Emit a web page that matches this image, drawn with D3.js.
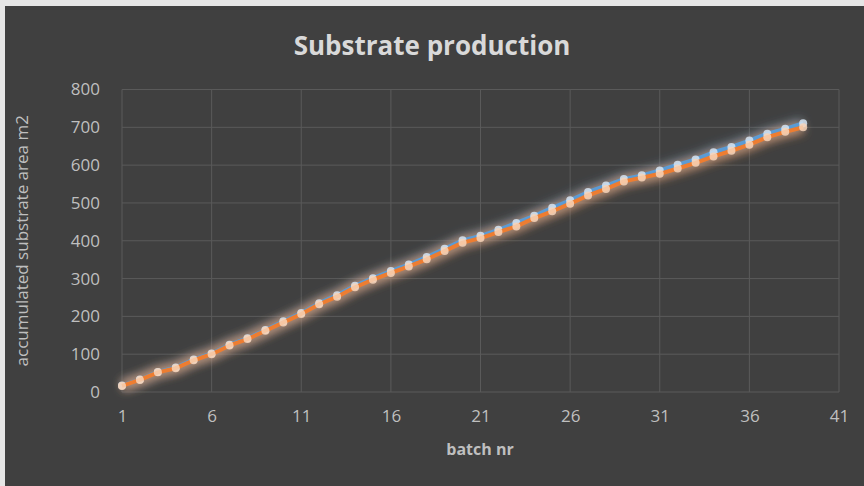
<html>
  <head>
    <meta charset="utf-8" />
    <title>Substrate production</title>
    <script src="https://d3js.org/d3.v7.min.js"></script>
    <style>
      body { margin: 0; background: #e6e6e6; }
      svg { display: block; }
    </style>
  </head>
  <body>
    <div id="figure"></div>
    <script type="text/javascript">
      // batch numbers and accumulated area (m2)
      var batches = d3.range(1, 40);
      var blueValues = [17, 33, 53, 65, 86, 102, 125, 142, 164, 187, 209, 235, 256, 281, 301, 320, 337, 357, 379, 401,
        413, 429, 447, 466, 487, 507, 529, 546, 563, 573, 586, 601, 615, 634, 648, 665, 683, 696, 711];
      var orangeValues = [16, 32, 52, 63, 84, 100, 123, 140, 162, 184, 206, 232, 252, 277, 297, 315, 332, 351, 373, 395,
        407, 423, 438, 460, 478, 498, 520, 537, 557, 567, 577, 591, 606, 623, 638, 654, 674, 688, 700];
      var xTicks = [1, 6, 11, 16, 21, 26, 31, 36, 41];
      var yTicks = [0, 100, 200, 300, 400, 500, 600, 700, 800];

      var width = 864;
      var height = 486;
      var margin = { top: 89.5, right: 25, bottom: 94, left: 122 };
      var font = "'Open Sans', sans-serif";

      var svg = d3
        .select("#figure")
        .append("svg")
        .attr("width", width)
        .attr("height", height);

      var defs = svg.append("defs");
      var glow = defs.append("filter").attr("id", "glow")
        .attr("x", "-20%").attr("y", "-30%").attr("width", "140%").attr("height", "160%");
      glow.append("feGaussianBlur").attr("stdDeviation", 5);

      // dark chart area
      svg.append("rect")
        .attr("x", 5).attr("y", 6)
        .attr("width", width - 5).attr("height", height - 6)
        .attr("fill", "#404040");

      var x = d3.scaleLinear().domain([1, 41]).range([margin.left, width - margin.right]);
      var y = d3.scaleLinear().domain([0, 800]).range([height - margin.bottom, margin.top]);

      // gridlines
      svg.append("g")
        .selectAll("line")
        .data(yTicks)
        .enter()
        .append("line")
        .attr("x1", x(1)).attr("x2", x(41))
        .attr("y1", function (d) { return y(d); })
        .attr("y2", function (d) { return y(d); })
        .attr("stroke", "#5a5a5a").attr("stroke-width", 1);

      svg.append("g")
        .selectAll("line")
        .data(xTicks)
        .enter()
        .append("line")
        .attr("y1", y(0)).attr("y2", y(800))
        .attr("x1", function (d) { return x(d); })
        .attr("x2", function (d) { return x(d); })
        .attr("stroke", "#5a5a5a").attr("stroke-width", 1);

      // axes (text only)
      var xAxis = svg.append("g")
        .attr("transform", "translate(0," + (y(0) + 12) + ")")
        .call(d3.axisBottom(x).tickValues(xTicks).tickSize(0).tickPadding(6));
      var yAxis = svg.append("g")
        .attr("transform", "translate(" + (x(1) - 22) + ",0)")
        .call(d3.axisLeft(y).tickValues(yTicks).tickSize(0).tickPadding(0));

      [xAxis, yAxis].forEach(function (g) {
        g.select(".domain").remove();
        g.selectAll("text")
          .attr("fill", "#bfbfbf")
          .style("font-family", font)
          .style("font-size", "17px");
      });

      var series = [
        { values: blueValues, line: "#5b9bd5", marker: "#d6e4f2" },
        { values: orangeValues, line: "#ed7d31", marker: "#f7d3b8" }
      ];

      var line = d3.line()
        .x(function (d, i) { return x(batches[i]); })
        .y(function (d) { return y(d); });

      // soft halo under both lines
      series.forEach(function (s) {
        svg.append("path")
          .datum(s.values)
          .attr("d", line)
          .attr("fill", "none")
          .attr("stroke", s.line)
          .attr("stroke-width", 12)
          .attr("stroke-opacity", 0.5)
          .attr("filter", "url(#glow)");
      });
      svg.append("path")
        .datum(orangeValues)
        .attr("d", line)
        .attr("fill", "none")
        .attr("stroke", "#f3d9c4")
        .attr("stroke-width", 8)
        .attr("stroke-opacity", 0.35)
        .attr("filter", "url(#glow)");

      series.forEach(function (s) {
        svg.append("path")
          .datum(s.values)
          .attr("d", line)
          .attr("fill", "none")
          .attr("stroke", s.line)
          .attr("stroke-width", 4)
          .attr("stroke-linejoin", "round");

        svg.append("g")
          .selectAll("circle")
          .data(s.values)
          .enter()
          .append("circle")
          .attr("cx", function (d, i) { return x(batches[i]); })
          .attr("cy", function (d) { return y(d); })
          .attr("r", 4)
          .attr("fill", s.marker)
          .attr("fill-opacity", 0.85);
      });

      // titles
      svg.append("text")
        .attr("x", 432).attr("y", 55)
        .attr("text-anchor", "middle")
        .attr("fill", "#d9d9d9")
        .style("font-family", font)
        .style("font-weight", "bold")
        .style("font-size", "26px")
        .text("Substrate production");

      svg.append("text")
        .attr("x", 480).attr("y", 455)
        .attr("text-anchor", "middle")
        .attr("fill", "#bfbfbf")
        .style("font-family", font)
        .style("font-weight", "bold")
        .style("font-size", "16px")
        .text("batch nr");

      svg.append("text")
        .attr("transform", "translate(28," + y(400) + ") rotate(-90)")
        .attr("text-anchor", "middle")
        .attr("fill", "#bfbfbf")
        .style("font-family", font)
        .style("font-size", "17px")
        .text("accumulated substrate area m2");
    </script>
  </body>
</html>
